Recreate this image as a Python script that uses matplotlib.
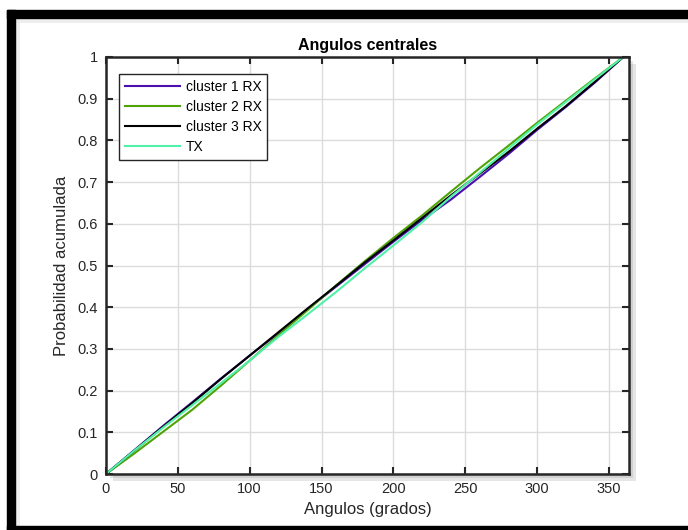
import matplotlib.pyplot as plt
import matplotlib.patheffects as pe
from matplotlib.patches import Rectangle

plt.rcParams['font.family'] = ['Liberation Sans', 'DejaVu Sans']

# angle samples (grados) and cumulative probability
angulos = [0, 20, 40, 60, 80, 100, 120, 140, 160, 180,
           200, 220, 240, 260, 280, 300, 320, 340, 360]
cluster1 = [0, .058, .116, .172, .229, .284, .338, .395, .449, .503,
            .557, .609, .658, .712, .767, .825, .880, .938, 1]
cluster2 = [0, .050, .102, .154, .212, .272, .333, .392, .452, .510,
            .566, .620, .677, .733, .787, .842, .895, .948, 1]
cluster3 = [0, .057, .114, .170, .228, .284, .340, .396, .451, .507,
            .560, .614, .668, .720, .772, .828, .882, .940, 1]
tx = [0, .057, .112, .165, .218, .272, .329, .382, .436, .493,
      .548, .604, .665, .722, .780, .838, .892, .946, 1]

series = ['cluster 1 RX', 'cluster 2 RX', 'cluster 3 RX', 'TX']
colors = ['#4b0fb0', '#4fa307', '#000000', '#4ff2a8']

fig = plt.figure(figsize=(6.88, 5.30), dpi=100)
ax = fig.add_axes([106 / 688, 1 - 474 / 530, (629 - 106) / 688, (474 - 57) / 530])

for ys, name, c in zip([cluster1, cluster2, cluster3, tx], series, colors):
    ax.plot(angulos, ys, color=c, lw=1.5, label=name)

ax.set_xlim(0, 364)
ax.set_ylim(0, 1)
ax.set_xticks(range(0, 351, 50))
ax.set_yticks([i / 10 for i in range(11)])
ax.set_yticklabels(['0', '0.1', '0.2', '0.3', '0.4', '0.5', '0.6', '0.7', '0.8', '0.9', '1'])
ax.grid(True, color='#dcdcdc', lw=1)
ax.set_axisbelow(True)
ax.tick_params(direction='in', length=5, width=1.5, top=True, right=True,
               labelsize=10.5, colors='#262626', pad=6)
for s in ax.spines.values():
    s.set_linewidth(1.8)
    s.set_color('#262626')

# soft drop shadow under the axes box
ax.patch.set_path_effects([pe.SimplePatchShadow(offset=(5, -5), shadow_rgbFace='gray', alpha=0.2),
                           pe.SimplePatchShadow(offset=(3, -3), shadow_rgbFace='gray', alpha=0.2),
                           pe.Normal()])

ax.set_title('Angulos centrales', fontsize=11.5, fontweight='bold', pad=5)
ax.set_xlabel('Angulos (grados)', fontsize=12, color='#262626', labelpad=4)
ax.set_ylabel('Probabilidad acumulada', fontsize=12, color='#262626', labelpad=6)

leg = ax.legend(loc='upper left', bbox_to_anchor=(0.012, 0.976), fancybox=False,
                edgecolor='#262626', framealpha=1, fontsize=10, handlelength=4.0,
                borderpad=0.4, labelspacing=0.45, handletextpad=0.4)
leg.get_frame().set_linewidth(1)

# black frame around the picture
W, H = 688, 530
frame = [(7, 10, 681, 8), (7, 10, 8, 520), (7, 526, 681, 4)]
for x0, y0, w, h in frame:
    fig.patches.append(Rectangle((x0 / W, 1 - (y0 + h) / H), w / W, h / H,
                                 transform=fig.transFigure, color='black', zorder=5))
fig.patches.append(Rectangle((15 / W, 1 - 23 / H), 673 / W, 5 / H, transform=fig.transFigure,
                             color='#e4e4e4', alpha=0.6, lw=0))
fig.patches.append(Rectangle((15 / W, 0), 5 / W, 1 - 18 / H, transform=fig.transFigure,
                             color='#e4e4e4', alpha=0.6, lw=0))

fig.savefig('out.png', dpi=100)
